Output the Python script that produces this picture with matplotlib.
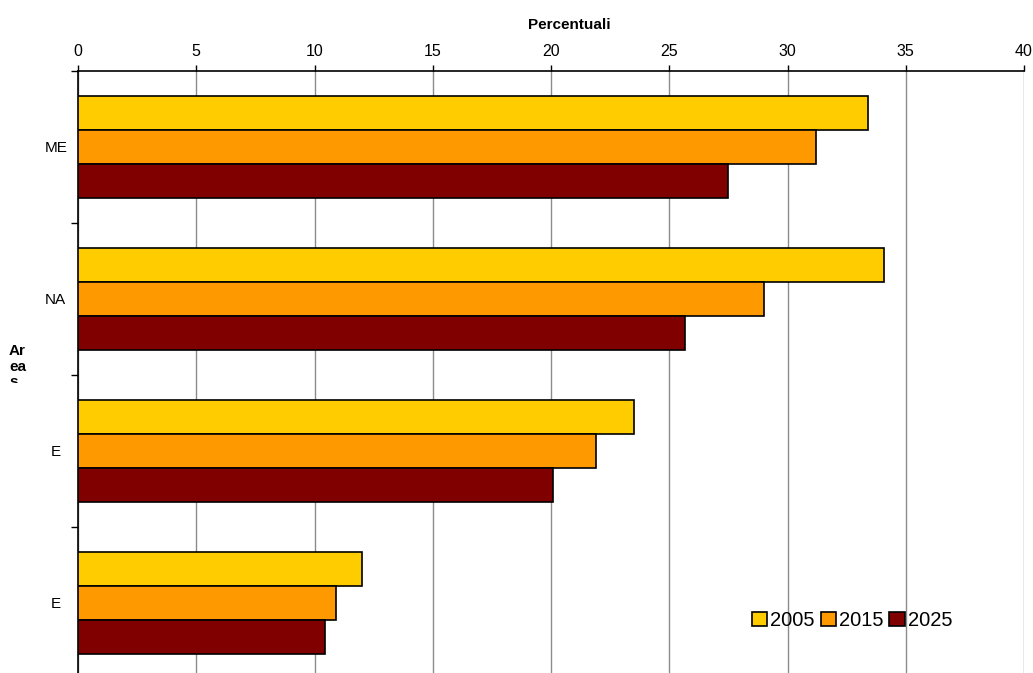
import matplotlib.pyplot as plt
import numpy as np
from matplotlib.patches import Rectangle

plt.rcParams['font.family'] = ['Liberation Sans', 'DejaVu Sans']

areas = ['ME', 'NA', 'E', 'E']
years = ['2005', '2015', '2025']
v2005 = [33.4, 34.1, 23.5, 12.0]
v2015 = [31.2, 29.0, 21.9, 10.9]
v2025 = [27.5, 25.65, 20.1, 10.45]
colors = ['#FFCC00', '#FF9900', '#800000']

W, H = 1033, 673
fig = plt.figure(figsize=(W / 100, H / 100), dpi=100)
ax = fig.add_axes([78 / W, 1 - 679 / H, (1024 - 78) / W, (679 - 71) / H])

pos = np.arange(len(areas))
h = 34 / 152
for k, (vals, c, lab) in enumerate(zip([v2005, v2015, v2025], colors, years)):
    ax.barh(pos + (k - 1) * h, vals, height=h, color=c, edgecolor='black',
            linewidth=1.2, label=lab, zorder=3)

ax.set_xlim(0, 40)
ax.set_ylim(3.5, -0.5)
ax.set_xticks(np.arange(0, 41, 5))
ax.xaxis.tick_top()
ax.tick_params(axis='x', direction='out', length=4, width=1, labelsize=11.5, pad=5)
ax.grid(axis='x', color='#8c8c8c', linewidth=1, zorder=0)

ax.set_yticks(pos)
ax.set_yticklabels(areas, fontsize=11, ha='center')
ax.tick_params(axis='y', length=0, pad=16)
ax.set_yticks(np.arange(-0.5, 4, 1), minor=True)
ax.tick_params(axis='y', which='minor', direction='out', length=5, width=1)

for s in ['right', 'bottom']:
    ax.spines[s].set_visible(False)
for s in ['top', 'left']:
    ax.spines[s].set_linewidth(1.2)

fig.text(569 / W, 1 - 25 / H, 'Percentuali', fontsize=11, fontweight='bold',
         ha='center', va='center')

# axis title is cut off in the original, keep only the top of the last line
t = fig.text(9 / W, 1 - 344 / H, 'Ar\nea\ns', fontsize=11, fontweight='bold',
             ha='left', va='top', linespacing=1.15)
clip = Rectangle((0, 1 - 383 / H), 60 / W, 80 / H, transform=fig.transFigure)
t.set_clip_path(clip)

leg = ax.legend(loc='lower left', bbox_to_anchor=(742 / W, 1 - 640 / H),
                bbox_transform=fig.transFigure, ncol=3, frameon=False,
                fontsize=14.5, handlelength=0.75, handleheight=0.75,
                handletextpad=0.15, columnspacing=0.3, borderpad=0)

fig.savefig('out.png', dpi=100)
